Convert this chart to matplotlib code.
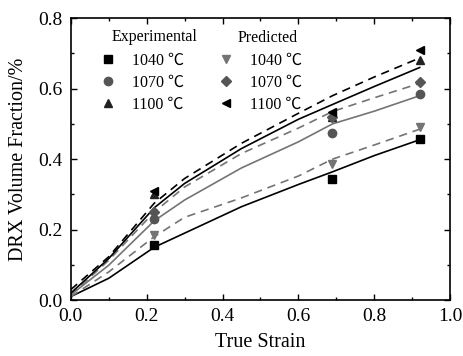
import matplotlib
matplotlib.use("Agg")
import matplotlib.pyplot as plt
from matplotlib.ticker import MultipleLocator

plt.rcParams['font.family'] = ['Liberation Serif', 'Noto Sans CJK SC', 'DejaVu Serif']

# curve sample points
strain = [0.0, 0.1, 0.22, 0.3, 0.45, 0.6, 0.69, 0.8, 0.92]
exp_1040 = [0.01, 0.062, 0.15, 0.19, 0.265, 0.328, 0.364, 0.41, 0.455]
pred_1040 = [0.01, 0.08, 0.18, 0.235, 0.29, 0.352, 0.40, 0.44, 0.485]
exp_1070 = [0.015, 0.099, 0.225, 0.284, 0.375, 0.449, 0.50, 0.536, 0.58]
pred_1070 = [0.015, 0.113, 0.25, 0.321, 0.416, 0.488, 0.535, 0.574, 0.615]
exp_1100 = [0.02, 0.118, 0.262, 0.331, 0.43, 0.513, 0.555, 0.606, 0.66]
pred_1100 = [0.03, 0.123, 0.275, 0.345, 0.445, 0.53, 0.58, 0.633, 0.687]

# measured / predicted points
pt_strain = [0.22, 0.69, 0.92]
pt_exp_1040 = [0.156, 0.345, 0.457]
pt_exp_1070 = [0.23, 0.475, 0.585]
pt_exp_1100 = [0.30, 0.52, 0.68]
pt_pred_1040 = [0.184, 0.385, 0.49]
pt_pred_1070 = [0.25, 0.52, 0.62]
pt_pred_1100 = [0.31, 0.535, 0.709]

labels = ['1040 ℃', '1070 ℃', '1100 ℃']

GRAY = '#747474'
DGRAY = '#555555'


def main():
    fig = plt.figure(figsize=(4.63, 3.56), dpi=100)
    ax = fig.add_axes([0.153, 0.157, 0.819, 0.792])

    dash = (0, (5, 3.5))
    ax.plot(strain, exp_1040, color='black', lw=1.2)
    ax.plot(strain, pred_1040, color=GRAY, lw=1.2, ls=dash)
    ax.plot(strain, exp_1070, color=GRAY, lw=1.2)
    ax.plot(strain, pred_1070, color=GRAY, lw=1.2, ls=dash)
    ax.plot(strain, exp_1100, color='black', lw=1.2)
    ax.plot(strain, pred_1100, color='black', lw=1.2, ls=dash)

    ms = 6
    h1 = ax.plot(pt_strain, pt_exp_1040, 's', color='black', ms=ms, ls='none')[0]
    h2 = ax.plot(pt_strain, pt_exp_1070, 'o', color=DGRAY, ms=ms, ls='none')[0]
    h3 = ax.plot(pt_strain, pt_exp_1100, '^', color='#222222', ms=ms, ls='none')[0]
    h4 = ax.plot(pt_strain, pt_pred_1040, 'v', color=GRAY, ms=ms, ls='none')[0]
    h5 = ax.plot(pt_strain, pt_pred_1070, 'D', color=DGRAY, ms=ms - 1, ls='none')[0]
    h6 = ax.plot(pt_strain, pt_pred_1100, '<', color='black', ms=ms, ls='none')[0]

    fs = 11.5
    kw = dict(loc='upper left', frameon=False, fontsize=fs, handlelength=1.0,
              handletextpad=1.0, labelspacing=0.38, borderpad=0, borderaxespad=0)
    leg1 = ax.legend([h1, h2, h3], labels, bbox_to_anchor=(0.0765, 0.877), **kw)
    ax.add_artist(leg1)
    ax.legend([h4, h5, h6], labels, bbox_to_anchor=(0.388, 0.877), **kw)
    ax.text(0.108, 0.933, 'Experimental', transform=ax.transAxes,
            fontsize=fs, va='center', ha='left')
    ax.text(0.44, 0.93, 'Predicted', transform=ax.transAxes,
            fontsize=fs, va='center', ha='left')

    ax.set_xlim(0, 1.0)
    ax.set_ylim(0, 0.8)
    ax.xaxis.set_major_locator(MultipleLocator(0.2))
    ax.xaxis.set_minor_locator(MultipleLocator(0.1))
    ax.yaxis.set_major_locator(MultipleLocator(0.2))
    ax.yaxis.set_minor_locator(MultipleLocator(0.1))
    ax.tick_params(which='both', direction='in', top=True, right=True,
                   labelsize=14, width=1, pad=6)
    ax.tick_params(which='major', length=4)
    ax.tick_params(which='minor', length=2.5)
    ax.xaxis.set_major_formatter(plt.FuncFormatter(lambda v, p: f'{v:.1f}'))
    ax.yaxis.set_major_formatter(plt.FuncFormatter(lambda v, p: f'{v:.1f}'))
    for s in ax.spines.values():
        s.set_linewidth(1.2)

    ax.set_xlabel('True Strain', fontsize=14.5)
    ax.set_ylabel('DRX Volume Fraction/%', fontsize=14.5)
    ax.xaxis.set_label_coords(0.5, -0.115)
    ax.yaxis.set_label_coords(-0.113, 0.5)

    fig.savefig('out.png', dpi=100)


if __name__ == "__main__":
    main()
